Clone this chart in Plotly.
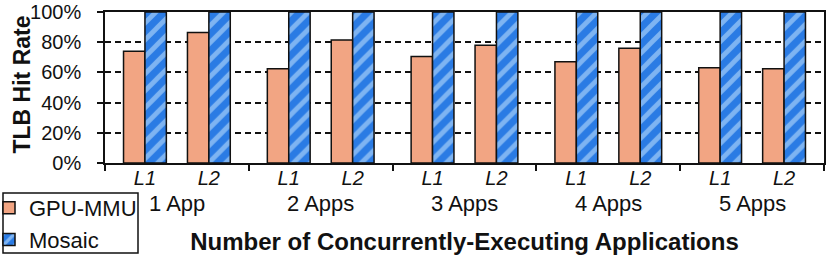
import plotly.graph_objects as go

groups = ["1 App", "2 Apps", "3 Apps", "4 Apps", "5 Apps"]
levels = ["L1", "L2"]
gpu_mmu = [74, 86.5, 62.5, 81.5, 70.5, 78, 67, 76, 63, 62.5]
mosaic = [100, 100, 100, 100, 100, 100, 100, 100, 100, 100]
y_ticks = [0, 20, 40, 60, 80, 100]
y_labels = ["0%", "20%", "40%", "60%", "80%", "100%"]

GW = 2.25  # group width in category units
xs, xt = [], []
for g in range(len(groups)):
    for s in range(len(levels)):
        xs.append(g * GW + 0.625 + s)
        xt.append(levels[s])
bounds = [g * GW for g in range(len(groups) + 1)]
centers = [g * GW + GW / 2 for g in range(len(groups))]

FONT = "Liberation Sans, Arial, Helvetica, sans-serif"
LINE = "#111111"

fig = go.Figure()
fig.add_trace(go.Bar(
    x=xs, y=gpu_mmu, name="GPU-MMU",
    marker=dict(color="#F2A583", line=dict(color=LINE, width=1.5)),
))
fig.add_trace(go.Bar(
    x=xs, y=mosaic, name="Mosaic",
    marker=dict(color="#2A7BE4", line=dict(color=LINE, width=1.5),
                pattern=dict(shape="/", fgcolor="#D2EEFF", bgcolor="#2A7BE4",
                             size=12, solidity=0.4)),
))

for c, name in zip(centers, groups):
    fig.add_annotation(x=c, y=0, xref="x", yref="paper", yanchor="top",
                       yshift=-26, text=name, showarrow=False,
                       font=dict(family=FONT, size=22, color="#111"))

# y-axis title
fig.add_annotation(x=(22 - 105) / 719, y=0.52, xref="paper", yref="paper",
                   xanchor="center", yanchor="middle", textangle=-90,
                   text="<b>TLB Hit Rate</b>", showarrow=False,
                   font=dict(family=FONT, size=23, color="#111"))

# legend frame
fig.add_shape(type="rect", xref="paper", yref="paper",
              x0=(3 - 105) / 719, x1=(138 - 105) / 719,
              y0=(163 - 253) / 151, y1=(163 - 193) / 151,
              line=dict(color=LINE, width=1.5), fillcolor="rgba(0,0,0,0)")

fig.update_layout(
    width=830, height=255,
    margin=dict(l=105, r=6, t=12, b=92, autoexpand=False),
    paper_bgcolor="white", plot_bgcolor="white",
    barmode="group", bargap=0.33, bargroupgap=0,
    font=dict(family=FONT, color="#111"),
    showlegend=True,
    legend=dict(x=(-11 - 105) / 719, y=(163 - 187) / 151, xanchor="left", yanchor="top",
                font=dict(family=FONT, size=22, color="#111"),
                bgcolor="rgba(0,0,0,0)", borderwidth=0, tracegroupgap=0),
    xaxis=dict(
        range=[0, GW * len(groups)], tickmode="array", tickvals=xs, ticktext=xt,
        ticks="", ticklen=0, ticklabelstandoff=-4,
        tickfont=dict(family=FONT, size=20, style="italic", color="#111"),
        showline=True, linecolor=LINE, linewidth=1.5, mirror=True,
        showgrid=False, zeroline=False,
        minor=dict(tickmode="array", tickvals=bounds, ticks="outside",
                   ticklen=6, tickwidth=1.5, tickcolor=LINE, showgrid=False),
        title=dict(text="<b>Number of Concurrently-Executing Applications</b>",
                   font=dict(family=FONT, size=24, color="#111"), standoff=56),
    ),
    yaxis=dict(
        range=[0, 100], tickmode="array", tickvals=y_ticks, ticktext=y_labels,
        ticks="outside", ticklen=6, tickwidth=1.5, tickcolor=LINE,
        ticklabelstandoff=12,
        tickfont=dict(family=FONT, size=20, color="#111"),
        showline=True, linecolor=LINE, linewidth=1.5, mirror=True,
        showgrid=True, gridcolor=LINE, gridwidth=1.5, griddash="6px,4px",
        zeroline=False,
    ),
)

fig.write_html("out.html", config={"displayModeBar": False},
               post_script="document.body.style.margin='0';")
